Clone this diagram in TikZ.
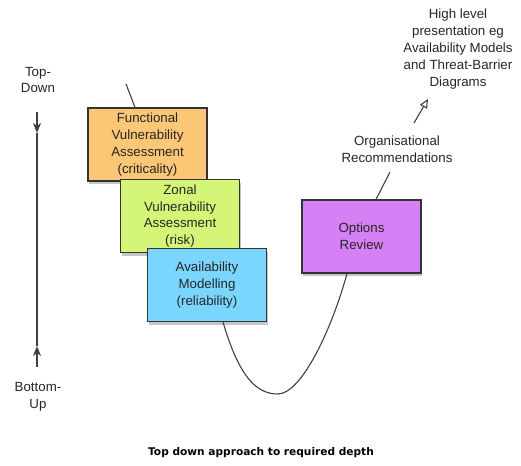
\documentclass[tikz,border=0pt]{standalone}
\usepackage{fontspec}
\setmainfont{Liberation Sans}
\newfontfamily\capfont{DejaVu Sans}
\usetikzlibrary{arrows.meta,shadows}
\definecolor{boxorange}{HTML}{FBC675}
\definecolor{boxgreen}{HTML}{D5F578}
\definecolor{boxblue}{HTML}{7AD6FF}
\definecolor{boxpurple}{HTML}{D680F6}
\definecolor{edge}{HTML}{333333}

\begin{document}
\begin{tikzpicture}[x=1pt,y=-1pt,
		every node/.style={font=\fontsize{13.3}{16.8}\selectfont, align=center, text=black!85},
		stage/.style={rectangle, draw=edge, line width=1.2pt, minimum width=119pt, minimum height=73pt, inner sep=2pt,
			drop shadow={shadow xshift=1pt, shadow yshift=-3pt, opacity=.45}},
		wire/.style={draw=black!75, line width=1.1pt}]
		\useasboundingbox (0,0) rectangle (521,465);
		\node (top) at (38,80) {Top-\\Down};
		\node (bottom) at (38,397) {Bottom-\\Up};
		\coordinate (td) at (37,112);
		\coordinate (tdtip) at (37,133);
		\coordinate (bu) at (37,367);
		\coordinate (butip) at (37,346);
		\draw[wire] (tdtip) -- (butip);
		\draw[wire,-{Stealth[length=10pt,width=8pt,inset=3pt]}] (td) -- (tdtip);
		\draw[wire,-{Stealth[length=10pt,width=8pt,inset=3pt]}] (bu) -- (butip);
		\node[stage, fill=boxorange] (func) at (147.5,144.5) {Functional\\Vulnerability\\Assessment\\(criticality)};
		\node[stage, fill=boxgreen] (zonal) at (180,216) {Zonal\\Vulnerability\\Assessment\\(risk)};
		\node[stage, fill=boxblue] (avail) at (207,285) {Availability\\Modelling\\(reliability)};
		\node[stage, fill=boxpurple] (opts) at (361.5,236.5) {Options\\Review};
		\node (org) at (397,149) {Organisational\\Recommendations};
		\node (high) at (458,49) {High level\\presentation eg\\Availability Models\\and Threat-Barrier\\Diagrams};
		\node[font=\capfont\bfseries\fontsize{10.6}{12}\selectfont, text=black] (cap) at (261,453) {Top down approach to required depth};
		\coordinate (start) at (126,84);
		\coordinate (dip) at (278,394);
		\coordinate (orgfoot) at (390,172);
		\coordinate (orghead) at (414,123);
		\coordinate (hightail) at (428,99);
		\draw[wire] (start) -- ([xshift=-12.5pt]func.north);
		\draw[wire] ([xshift=16pt]avail.south) .. controls (240,380) and (258,394) .. (dip)
			.. controls (300,394) and (330,335) .. ([xshift=-14.5pt]opts.south);
		\draw[wire] ([xshift=14.5pt]opts.north) -- (orgfoot);
		\draw[wire,-{Triangle[open,length=9pt,width=8pt]}] (orghead) -- (hightail);
\end{tikzpicture}
\end{document}
